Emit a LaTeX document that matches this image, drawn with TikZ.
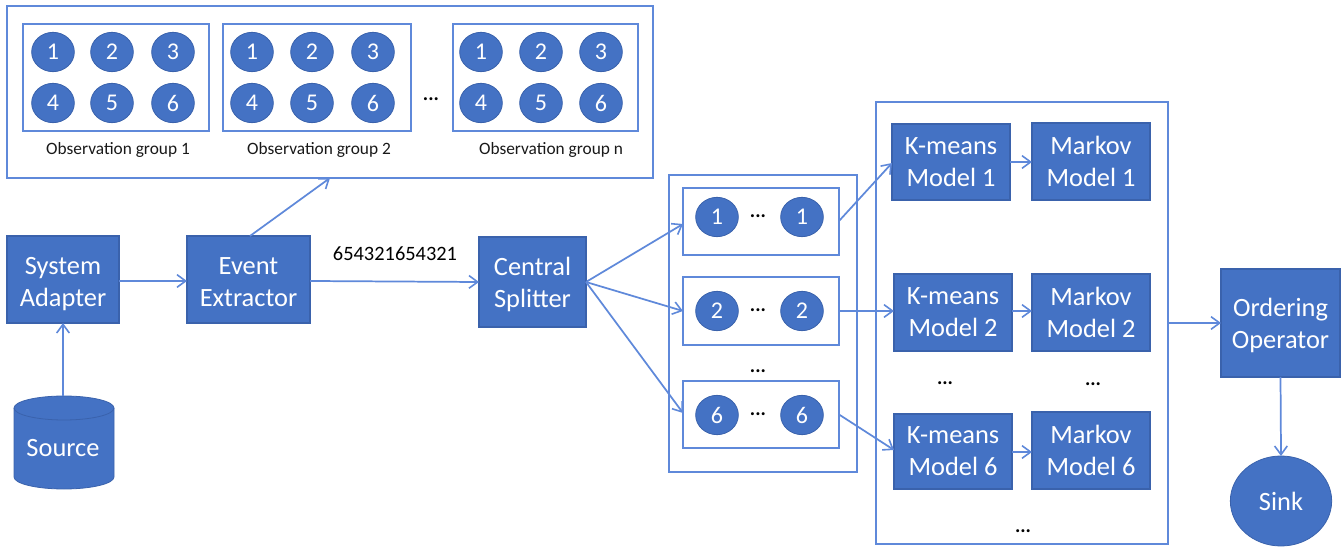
\documentclass[tikz,border=0pt]{standalone}
\usepackage{fontspec}
\setmainfont{Carlito}
\usetikzlibrary{arrows.meta,calc,shapes.geometric}
\definecolor{blueFill}{HTML}{4472C4}
\definecolor{blueEdge}{HTML}{3A62AC}
\definecolor{blueLine}{HTML}{5F89DA}
\tikzset{
  procbox/.style={draw=blueEdge,fill=blueFill,line width=1pt,text=white,align=center,inner sep=0pt,outer sep=0pt,
    font=\fontsize{19.8}{24}\selectfont},
  frame/.style={draw=blueLine,fill=white,line width=1.2pt,inner sep=0pt,outer sep=0pt},
  ball/.style={ellipse,draw=blueEdge,fill=blueFill,line width=.6pt,text=white,inner sep=0pt,outer sep=0pt,
    minimum width=32pt,minimum height=29.5pt,font=\fontsize{18}{20}\selectfont},
  link/.style={draw=blueLine,line width=1.3pt,-{Straight Barb[length=6.5pt,width=9.5pt,line width=1.2pt]}},
  grouplabel/.style={inner sep=0pt,text=black!90,font=\fontsize{13}{15}\selectfont},
  dots/.style={anchor=base,inner sep=0pt,text=black,font=\fontsize{15}{15}\bfseries\selectfont},
}
\newcommand{\boxat}[6]{\node[#1,minimum width=#4*0.75pt,minimum height=#5*0.75pt] (#2) at (#3) {#6};}
\newcommand{\tall}[1]{\rule{0pt}{#1pt}}
\begin{document}
\begin{tikzpicture}[x=0.75pt,y=-0.75pt]
\useasboundingbox (0,0) rectangle (1344,548);
% observation groups
\boxat{frame}{obs}{330,92}{646}{172}{}
\boxat{frame}{g1}{116,77.5}{186}{107}{}
\boxat{frame}{g2}{317,77.5}{188}{107}{}
\boxat{frame}{gn}{545.5,77.5}{185}{107}{}
\foreach \g/\a/\b/\c in {a/53/112/173,b/252/312/373,c/481/541/601}{
  \node[ball] (\g1) at (\a,52) {1};
  \node[ball] (\g2) at (\b,52) {2};
  \node[ball] (\g3) at (\c,52) {3};
  \node[ball] (\g4) at (\a,103) {4};
  \node[ball] (\g5) at (\b,103) {5};
  \node[ball] (\g6) at (\c,103) {6};
}
\node[grouplabel] (l1) at (118,150) {Observation group 1};
\node[grouplabel] (l2) at (319,150) {Observation group 2};
\node[grouplabel] (l3) at (551,150) {Observation group n};
\node[dots] (d0) at (431,101) {...};
% left chain
\boxat{procbox}{sa}{63,279.5}{112}{87}{\tall{19}System\\Adapter}
\boxat{procbox}{ee}{248.5,279.5}{123}{87}{\tall{17}Event\\Extractor}
\boxat{procbox}{cs}{532.5,282}{107}{90}{\tall{17}Central\\Splitter}
% source cylinder
\draw[draw=blueEdge,fill=blueFill,line width=.6pt] (14,408) -- (14,477) arc[start angle=180,end angle=0,x radius=50,y radius=12] -- (114,408) arc[start angle=0,end angle=-180,x radius=50,y radius=12] -- cycle;
\draw[draw=blueEdge,line width=.6pt] (14,408) arc[start angle=180,end angle=0,x radius=50,y radius=12];
\node[minimum width=75pt,minimum height=70pt,inner sep=0pt,outer sep=0pt] (src) at (63.5,442.5) {};
\node[text=white,inner sep=0pt,font=\fontsize{19.8}{24}\selectfont] (srct) at (63,448) {Source};
\node[inner sep=0pt,font=\fontsize{15.3}{18}\selectfont] (seq) at (395,254) {654321654321};
% splitter rows
\boxat{frame}{rows}{763,323.5}{188}{297}{}
\boxat{frame}{r1}{761,221.5}{156}{67}{}
\boxat{frame}{r2}{761,311}{156}{68}{}
\boxat{frame}{r6}{761,414.5}{156}{67}{}
\foreach \n/\y/\t in {1/217/1,2/311/2,6/415/6}{
  \node[ball] (p\n) at (717,\y) {\t};
  \node[ball] (q\n) at (802,\y) {\t};
  \node[dots] (e\n) at (758,\y+1) {...};
}
\node[dots] (e0) at (758,373) {...};
% models
\boxat{frame}{models}{1022,323}{292}{442}{}
\boxat{procbox}{k1}{951,162}{118}{76}{K-means\\Model 1}
\boxat{procbox}{m1}{1091,161.5}{118}{77}{Markov\\Model 1}
\boxat{procbox}{k2}{953,312.5}{118}{77}{K-means\\Model 2}
\boxat{procbox}{m2}{1091,312.5}{118}{77}{Markov\\Model 2}
\boxat{procbox}{k6}{953,451.5}{118}{75}{K-means\\Model 6}
\boxat{procbox}{m6}{1091,450.5}{118}{77}{Markov\\Model 6}
\node[dots] (f1) at (945,385) {...};
\node[dots] (f2) at (1093,386) {...};
\node[dots] (f3) at (1023,532) {...};
% sink side
\boxat{procbox}{oo}{1280.5,323}{119}{108}{\tall{17}Ordering\\Operator}
\node[ellipse,draw=blueEdge,fill=blueFill,line width=.6pt,text=white,inner sep=0pt,outer sep=0pt,
  minimum width=76pt,minimum height=67.5pt,font=\fontsize{19.8}{24}\selectfont] (sink) at (1281,501) {Sink};
% connectors
\draw[link] (src.north -| sa.south) -- (sa.south);
\draw[link] ($(sa.east)+(0,1.5)$) -- ($(ee.west)+(0,1.5)$);
\draw[link] ($(ee.east)+(0,1.5)$) -- (cs.west);
\draw[link] ($(ee.north)+(1.5,0)$) -- ($(obs.south)+(0,0)$);
\draw[link] (cs.east) -- ($(r1.west)+(0,2.5)$);
\draw[link] (cs.east) -- (r2.west);
\draw[link] (cs.east) -- ($(r6.west)+(0,-1.5)$);
\draw[link] ($(r1.east)+(0,-.5)$) -- ($(k1.west)+(0,1)$);
\draw[link] (r2.east) -- ($(k2.west)+(0,-1.5)$);
\draw[link] (r6.east) -- ($(k6.west)+(0,-1.5)$);
\draw[link] (k1.east) -- ($(m1.west)+(0,.5)$);
\draw[link] ($(k2.east)+(0,-1.5)$) -- ($(m2.west)+(0,-1.5)$);
\draw[link] ($(k6.east)+(0,.5)$) -- ($(m6.west)+(0,1.5)$);
\draw[link] (models.east) -- (oo.west);
\draw[link] (oo.south) -- (sink.north);
\end{tikzpicture}
\end{document}
